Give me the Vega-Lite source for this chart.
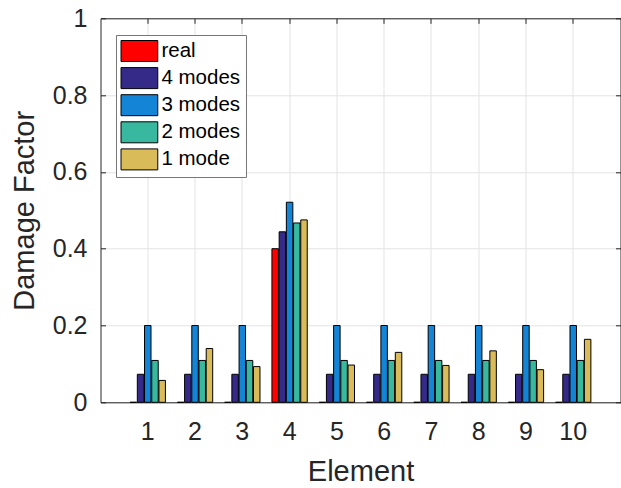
{
  "$schema": "https://vega.github.io/schema/vega-lite/v6.json",
  "width": 520,
  "height": 384,
  "autosize": {"type": "none"},
  "padding": {"left": 100.5, "top": 18.3, "right": 0.5, "bottom": 85.7},
  "background": "white",
  "config": {"view": {"stroke": null}, "font": "Liberation Sans"},
  "data": {
    "values": [
      {"element": 1, "series": "real", "value": 0},
      {"element": 1, "series": "4 modes", "value": 0.073},
      {"element": 1, "series": "3 modes", "value": 0.2},
      {"element": 1, "series": "2 modes", "value": 0.109},
      {"element": 1, "series": "1 mode", "value": 0.057},
      {"element": 2, "series": "real", "value": 0},
      {"element": 2, "series": "4 modes", "value": 0.073},
      {"element": 2, "series": "3 modes", "value": 0.2},
      {"element": 2, "series": "2 modes", "value": 0.109},
      {"element": 2, "series": "1 mode", "value": 0.14},
      {"element": 3, "series": "real", "value": 0},
      {"element": 3, "series": "4 modes", "value": 0.073},
      {"element": 3, "series": "3 modes", "value": 0.2},
      {"element": 3, "series": "2 modes", "value": 0.109},
      {"element": 3, "series": "1 mode", "value": 0.093},
      {"element": 4, "series": "real", "value": 0.4},
      {"element": 4, "series": "4 modes", "value": 0.444},
      {"element": 4, "series": "3 modes", "value": 0.521},
      {"element": 4, "series": "2 modes", "value": 0.467},
      {"element": 4, "series": "1 mode", "value": 0.475},
      {"element": 5, "series": "real", "value": 0},
      {"element": 5, "series": "4 modes", "value": 0.073},
      {"element": 5, "series": "3 modes", "value": 0.2},
      {"element": 5, "series": "2 modes", "value": 0.109},
      {"element": 5, "series": "1 mode", "value": 0.097},
      {"element": 6, "series": "real", "value": 0},
      {"element": 6, "series": "4 modes", "value": 0.073},
      {"element": 6, "series": "3 modes", "value": 0.2},
      {"element": 6, "series": "2 modes", "value": 0.109},
      {"element": 6, "series": "1 mode", "value": 0.13},
      {"element": 7, "series": "real", "value": 0},
      {"element": 7, "series": "4 modes", "value": 0.073},
      {"element": 7, "series": "3 modes", "value": 0.2},
      {"element": 7, "series": "2 modes", "value": 0.109},
      {"element": 7, "series": "1 mode", "value": 0.096},
      {"element": 8, "series": "real", "value": 0},
      {"element": 8, "series": "4 modes", "value": 0.073},
      {"element": 8, "series": "3 modes", "value": 0.2},
      {"element": 8, "series": "2 modes", "value": 0.109},
      {"element": 8, "series": "1 mode", "value": 0.134},
      {"element": 9, "series": "real", "value": 0},
      {"element": 9, "series": "4 modes", "value": 0.073},
      {"element": 9, "series": "3 modes", "value": 0.2},
      {"element": 9, "series": "2 modes", "value": 0.109},
      {"element": 9, "series": "1 mode", "value": 0.085},
      {"element": 10, "series": "real", "value": 0},
      {"element": 10, "series": "4 modes", "value": 0.073},
      {"element": 10, "series": "3 modes", "value": 0.2},
      {"element": 10, "series": "2 modes", "value": 0.109},
      {"element": 10, "series": "1 mode", "value": 0.164}
    ]
  },
  "layer": [
    {
      "mark": {"type": "bar", "stroke": "black", "strokeWidth": 1},
      "encoding": {
        "x": {
          "field": "element",
          "type": "ordinal",
          "scale": {"paddingInner": 0, "paddingOuter": 0.5},
          "axis": {
            "orient": "bottom",
            "title": "Element",
            "labelAngle": 0,
            "bandPosition": 0.5,
            "grid": true,
            "gridColor": "#e3e3e3",
            "gridWidth": 1,
            "domainColor": "#262626",
            "domainWidth": 1,
            "tickColor": "#262626",
            "tickSize": -5,
            "labelFontSize": 25,
            "labelColor": "#262626",
            "labelPadding": 22,
            "titleFontSize": 29,
            "titleFontWeight": "normal",
            "titleColor": "#262626",
            "titlePadding": 13
          }
        },
        "xOffset": {
          "field": "series",
          "type": "nominal",
          "sort": ["real", "4 modes", "3 modes", "2 modes", "1 mode"],
          "scale": {"paddingInner": 0.1, "paddingOuter": 0.83}
        },
        "y": {
          "field": "value",
          "type": "quantitative",
          "scale": {"domain": [0, 1], "nice": false},
          "axis": {
            "orient": "left",
            "title": "Damage Factor",
            "values": [0, 0.2, 0.4, 0.6, 0.8, 1],
            "format": "~g",
            "grid": true,
            "gridColor": "#e3e3e3",
            "gridWidth": 1,
            "domainColor": "#262626",
            "domainWidth": 1,
            "tickColor": "#262626",
            "tickSize": -5,
            "labelFontSize": 25,
            "labelColor": "#262626",
            "labelPadding": 18.5,
            "titleFontSize": 29,
            "titleFontWeight": "normal",
            "titleColor": "#262626",
            "titlePadding": 12.5
          }
        },
        "color": {
          "field": "series",
          "type": "nominal",
          "sort": ["real", "4 modes", "3 modes", "2 modes", "1 mode"],
          "scale": {
            "domain": ["real", "4 modes", "3 modes", "2 modes", "1 mode"],
            "range": ["#ff0000", "#352a87", "#1484d6", "#38b89e", "#d9bb59"]
          },
          "legend": {
            "title": null,
            "orient": "none",
            "legendX": 15.5,
            "legendY": 16.7,
            "padding": 5,
            "fillColor": "white",
            "strokeColor": "#777777",
            "symbolType": "M-1.75,-1H1.75V1H-1.75Z",
            "symbolSize": 441,
            "symbolOffset": 7.4,
            "symbolStrokeColor": "black",
            "symbolStrokeWidth": 1,
            "symbolOpacity": 1,
            "labelFontSize": 20.5,
            "labelColor": "#000000",
            "labelOffset": 11,
            "rowPadding": 1.1
          }
        }
      }
    },
    {
      "mark": {"type": "point", "opacity": 0},
      "encoding": {
        "x": {
          "field": "element",
          "type": "ordinal",
          "axis": {
            "orient": "top",
            "title": null,
            "labels": false,
            "bandPosition": 0.5,
            "grid": false,
            "domainColor": "#262626",
            "domainWidth": 1,
            "tickColor": "#262626",
            "tickSize": -5
          }
        },
        "y": {
          "field": "value",
          "type": "quantitative",
          "axis": {
            "orient": "right",
            "title": null,
            "labels": false,
            "values": [0, 0.2, 0.4, 0.6, 0.8, 1],
            "grid": false,
            "domainColor": "#262626",
            "domainWidth": 1,
            "tickColor": "#262626",
            "tickSize": -5
          }
        }
      }
    }
  ],
  "resolve": {"axis": {"x": "independent", "y": "independent"}}
}
